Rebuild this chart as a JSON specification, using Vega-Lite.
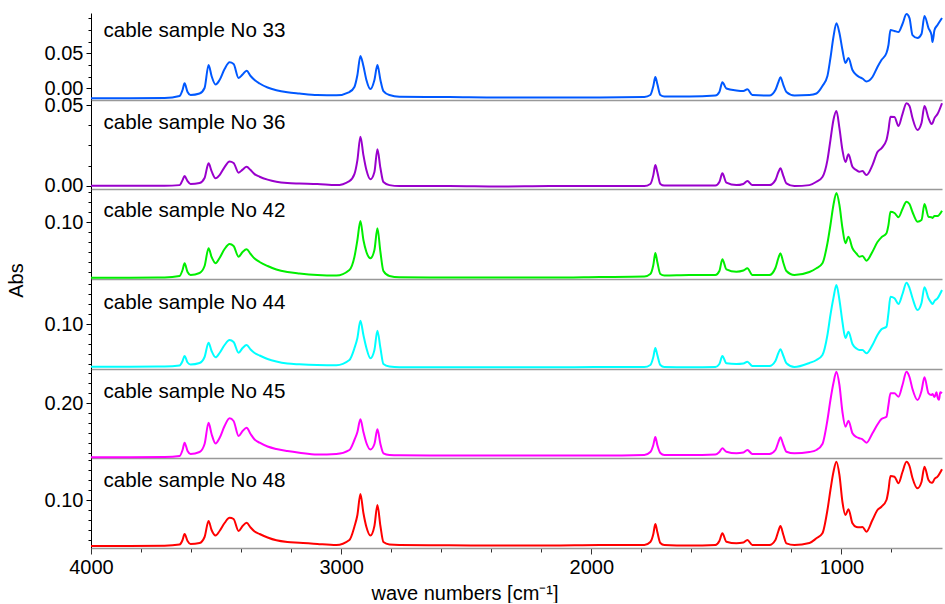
{
"$schema": "https://vega.github.io/schema/vega-lite/v6.json",
"background": "white",
"padding": {"left": 6, "top": 10, "right": 2, "bottom": 0},
"spacing": 0,
"bounds": "flush",
"config": {
  "view": {"stroke": null},
  "axis": {"grid": false, "labelFont": "Liberation Sans", "labelFontSize": 20, "labelColor": "#000", "titleFont": "Liberation Sans", "titleFontSize": 20, "titleFontWeight": "normal", "titleColor": "#000", "labelFlush": false, "domainColor": "#000", "tickColor": "#000"},
  "text": {"font": "Liberation Sans"}
},
"datasets": {
"s33": [{"wn":4000,"a":-0.0143},{"wn":3846,"a":-0.0143},{"wn":3706,"a":-0.0139},{"wn":3646,"a":-0.011},{"wn":3634,"a":-0.0024},{"wn":3626,"a":0.0071},{"wn":3614,"a":-0.0053},{"wn":3602,"a":-0.0096},{"wn":3566,"a":-0.0074},{"wn":3546,"a":0.0004},{"wn":3530,"a":0.0333},{"wn":3518,"a":0.0176},{"wn":3502,"a":0.0054},{"wn":3486,"a":0.0119},{"wn":3466,"a":0.0276},{"wn":3446,"a":0.0371},{"wn":3430,"a":0.0347},{"wn":3410,"a":0.0147},{"wn":3394,"a":0.0197},{"wn":3378,"a":0.0251},{"wn":3362,"a":0.0176},{"wn":3346,"a":0.0119},{"wn":3326,"a":0.0069},{"wn":3294,"a":0.0011},{"wn":3259,"a":-0.0027},{"wn":3215,"a":-0.0056},{"wn":3167,"a":-0.0074},{"wn":3095,"a":-0.0096},{"wn":3019,"a":-0.01},{"wn":2967,"a":-0.0053},{"wn":2947,"a":0.0019},{"wn":2935,"a":0.019},{"wn":2923,"a":0.0461},{"wn":2911,"a":0.0319},{"wn":2899,"a":0.0119},{"wn":2883,"a":-0.001},{"wn":2867,"a":0.0119},{"wn":2855,"a":0.0333},{"wn":2843,"a":0.0119},{"wn":2831,"a":-0.0039},{"wn":2807,"a":-0.0096},{"wn":2767,"a":-0.012},{"wn":2567,"a":-0.0124},{"wn":2367,"a":-0.0131},{"wn":2167,"a":-0.0131},{"wn":1967,"a":-0.0131},{"wn":1788,"a":-0.0124},{"wn":1764,"a":-0.0096},{"wn":1752,"a":0.0033},{"wn":1744,"a":0.0161},{"wn":1736,"a":0.0061},{"wn":1724,"a":-0.0096},{"wn":1708,"a":-0.0117},{"wn":1608,"a":-0.0117},{"wn":1504,"a":-0.0103},{"wn":1488,"a":-0.0053},{"wn":1476,"a":0.0086},{"wn":1460,"a":-0.0003},{"wn":1420,"a":-0.0031},{"wn":1392,"a":-0.0039},{"wn":1376,"a":-0.0014},{"wn":1356,"a":-0.0096},{"wn":1288,"a":-0.0103},{"wn":1264,"a":-0.0024},{"wn":1252,"a":0.009},{"wn":1244,"a":0.0157},{"wn":1232,"a":0.0047},{"wn":1220,"a":-0.0053},{"wn":1188,"a":-0.0103},{"wn":1128,"a":-0.0096},{"wn":1100,"a":-0.0074},{"wn":1076,"a":0.0033},{"wn":1056,"a":0.0176},{"wn":1044,"a":0.0433},{"wn":1032,"a":0.0733},{"wn":1020,"a":0.0929},{"wn":1008,"a":0.079},{"wn":996,"a":0.0547},{"wn":984,"a":0.0361},{"wn":972,"a":0.0433},{"wn":956,"a":0.0261},{"wn":940,"a":0.019},{"wn":928,"a":0.0161},{"wn":916,"a":0.014},{"wn":900,"a":0.0097},{"wn":876,"a":0.0161},{"wn":856,"a":0.0304},{"wn":840,"a":0.0404},{"wn":820,"a":0.0504},{"wn":812,"a":0.0619},{"wn":804,"a":0.0833},{"wn":788,"a":0.0819},{"wn":772,"a":0.0804},{"wn":756,"a":0.0919},{"wn":740,"a":0.1061},{"wn":728,"a":0.1004},{"wn":716,"a":0.0761},{"wn":696,"a":0.0719},{"wn":680,"a":0.0776},{"wn":668,"a":0.1033},{"wn":652,"a":0.0861},{"wn":640,"a":0.0761},{"wn":636,"a":0.0661},{"wn":628,"a":0.0833},{"wn":616,"a":0.0904},{"wn":598,"a":0.1004}],
"s36": [{"wn":4000,"a":0},{"wn":3846,"a":0},{"wn":3706,"a":0},{"wn":3646,"a":0.0004},{"wn":3634,"a":0.0035},{"wn":3626,"a":0.006},{"wn":3614,"a":0.0029},{"wn":3602,"a":0.0011},{"wn":3566,"a":0.0017},{"wn":3546,"a":0.0048},{"wn":3530,"a":0.0139},{"wn":3518,"a":0.0091},{"wn":3502,"a":0.0046},{"wn":3486,"a":0.0066},{"wn":3466,"a":0.0116},{"wn":3446,"a":0.015},{"wn":3430,"a":0.0141},{"wn":3410,"a":0.0081},{"wn":3394,"a":0.01},{"wn":3378,"a":0.0118},{"wn":3362,"a":0.0097},{"wn":3346,"a":0.0072},{"wn":3326,"a":0.0056},{"wn":3294,"a":0.0038},{"wn":3259,"a":0.0025},{"wn":3215,"a":0.0017},{"wn":3167,"a":0.0014},{"wn":3095,"a":0.0011},{"wn":3019,"a":0.0004},{"wn":2967,"a":0.0029},{"wn":2947,"a":0.0072},{"wn":2935,"a":0.0159},{"wn":2923,"a":0.0304},{"wn":2911,"a":0.019},{"wn":2899,"a":0.0097},{"wn":2883,"a":0.004},{"wn":2867,"a":0.0085},{"wn":2855,"a":0.0226},{"wn":2843,"a":0.011},{"wn":2831,"a":0.0023},{"wn":2807,"a":0.0004},{"wn":2767,"a":-0.0002},{"wn":2567,"a":-0.0002},{"wn":2367,"a":-0.0005},{"wn":2167,"a":-0.0002},{"wn":1967,"a":-0.0002},{"wn":1788,"a":-0.0002},{"wn":1764,"a":0.0011},{"wn":1752,"a":0.0066},{"wn":1744,"a":0.0128},{"wn":1736,"a":0.0085},{"wn":1724,"a":0.0011},{"wn":1708,"a":0.0001},{"wn":1608,"a":0.0001},{"wn":1504,"a":0.0001},{"wn":1488,"a":0.0023},{"wn":1476,"a":0.0077},{"wn":1460,"a":0.0019},{"wn":1420,"a":0.0004},{"wn":1392,"a":0.0011},{"wn":1376,"a":0.0029},{"wn":1356,"a":0.0004},{"wn":1288,"a":0.0004},{"wn":1264,"a":0.0035},{"wn":1252,"a":0.0085},{"wn":1244,"a":0.0108},{"wn":1232,"a":0.006},{"wn":1220,"a":0.0015},{"wn":1188,"a":-0.0002},{"wn":1128,"a":0.0004},{"wn":1100,"a":0.0025},{"wn":1076,"a":0.0054},{"wn":1056,"a":0.0159},{"wn":1044,"a":0.0283},{"wn":1032,"a":0.0407},{"wn":1020,"a":0.0463},{"wn":1008,"a":0.0357},{"wn":996,"a":0.0221},{"wn":984,"a":0.0147},{"wn":972,"a":0.0195},{"wn":956,"a":0.0118},{"wn":940,"a":0.0097},{"wn":928,"a":0.0087},{"wn":916,"a":0.0091},{"wn":900,"a":0.0066},{"wn":876,"a":0.0128},{"wn":856,"a":0.0209},{"wn":840,"a":0.0232},{"wn":820,"a":0.0283},{"wn":812,"a":0.0345},{"wn":804,"a":0.0428},{"wn":788,"a":0.0426},{"wn":772,"a":0.037},{"wn":756,"a":0.0444},{"wn":740,"a":0.0511},{"wn":728,"a":0.0494},{"wn":716,"a":0.0419},{"wn":696,"a":0.0345},{"wn":680,"a":0.0388},{"wn":668,"a":0.0494},{"wn":652,"a":0.0419},{"wn":640,"a":0.0382},{"wn":636,"a":0.0388},{"wn":628,"a":0.0419},{"wn":616,"a":0.0444},{"wn":598,"a":0.0511}],
"s42": [{"wn":4000,"a":-0.0108},{"wn":3846,"a":-0.0108},{"wn":3706,"a":-0.0104},{"wn":3646,"a":-0.0074},{"wn":3634,"a":0.0046},{"wn":3626,"a":0.018},{"wn":3614,"a":0.0006},{"wn":3602,"a":-0.0054},{"wn":3566,"a":-0.0014},{"wn":3546,"a":0.0126},{"wn":3530,"a":0.048},{"wn":3518,"a":0.0306},{"wn":3502,"a":0.018},{"wn":3486,"a":0.0286},{"wn":3466,"a":0.0466},{"wn":3446,"a":0.0566},{"wn":3430,"a":0.0526},{"wn":3410,"a":0.0312},{"wn":3394,"a":0.0406},{"wn":3378,"a":0.046},{"wn":3362,"a":0.0366},{"wn":3346,"a":0.0276},{"wn":3326,"a":0.0206},{"wn":3294,"a":0.0126},{"wn":3259,"a":0.0056},{"wn":3215,"a":0.0006},{"wn":3167,"a":-0.0024},{"wn":3095,"a":-0.0054},{"wn":3019,"a":-0.0064},{"wn":2967,"a":0.0046},{"wn":2947,"a":0.0306},{"wn":2935,"a":0.0646},{"wn":2923,"a":0.1026},{"wn":2911,"a":0.0646},{"wn":2899,"a":0.0406},{"wn":2883,"a":0.028},{"wn":2867,"a":0.0446},{"wn":2855,"a":0.088},{"wn":2843,"a":0.0406},{"wn":2831,"a":0.0026},{"wn":2807,"a":-0.0074},{"wn":2767,"a":-0.01},{"wn":2567,"a":-0.0104},{"wn":2367,"a":-0.0104},{"wn":2167,"a":-0.0104},{"wn":1967,"a":-0.0094},{"wn":1788,"a":-0.0084},{"wn":1764,"a":-0.0034},{"wn":1752,"a":0.0146},{"wn":1744,"a":0.0386},{"wn":1736,"a":0.0206},{"wn":1724,"a":-0.0034},{"wn":1708,"a":-0.0064},{"wn":1608,"a":-0.0054},{"wn":1504,"a":-0.0054},{"wn":1488,"a":0.0026},{"wn":1476,"a":0.026},{"wn":1460,"a":0.006},{"wn":1420,"a":0.0012},{"wn":1392,"a":0.0036},{"wn":1376,"a":0.008},{"wn":1356,"a":-0.0054},{"wn":1288,"a":-0.0054},{"wn":1264,"a":0.0086},{"wn":1252,"a":0.0286},{"wn":1244,"a":0.038},{"wn":1232,"a":0.0186},{"wn":1220,"a":0.0026},{"wn":1188,"a":-0.0054},{"wn":1128,"a":0.0006},{"wn":1100,"a":0.008},{"wn":1076,"a":0.018},{"wn":1056,"a":0.058},{"wn":1044,"a":0.0946},{"wn":1032,"a":0.1346},{"wn":1020,"a":0.1586},{"wn":1008,"a":0.1346},{"wn":996,"a":0.0886},{"wn":984,"a":0.058},{"wn":972,"a":0.0712},{"wn":956,"a":0.048},{"wn":940,"a":0.0376},{"wn":928,"a":0.0312},{"wn":916,"a":0.0326},{"wn":900,"a":0.0232},{"wn":876,"a":0.0412},{"wn":856,"a":0.0606},{"wn":840,"a":0.07},{"wn":820,"a":0.078},{"wn":812,"a":0.0946},{"wn":804,"a":0.1212},{"wn":788,"a":0.1186},{"wn":772,"a":0.11},{"wn":756,"a":0.1266},{"wn":740,"a":0.1412},{"wn":728,"a":0.1366},{"wn":716,"a":0.1206},{"wn":696,"a":0.1012},{"wn":680,"a":0.1046},{"wn":668,"a":0.1366},{"wn":652,"a":0.1112},{"wn":640,"a":0.11},{"wn":636,"a":0.1086},{"wn":628,"a":0.1126},{"wn":616,"a":0.1126},{"wn":598,"a":0.1232}],
"s44": [{"wn":4000,"a":0.0573},{"wn":3846,"a":0.0573},{"wn":3706,"a":0.0575},{"wn":3646,"a":0.0585},{"wn":3634,"a":0.063},{"wn":3626,"a":0.068},{"wn":3614,"a":0.0615},{"wn":3602,"a":0.0595},{"wn":3566,"a":0.061},{"wn":3546,"a":0.067},{"wn":3530,"a":0.0813},{"wn":3518,"a":0.073},{"wn":3502,"a":0.0667},{"wn":3486,"a":0.071},{"wn":3466,"a":0.079},{"wn":3446,"a":0.084},{"wn":3430,"a":0.082},{"wn":3410,"a":0.0713},{"wn":3394,"a":0.076},{"wn":3378,"a":0.079},{"wn":3362,"a":0.0745},{"wn":3346,"a":0.071},{"wn":3326,"a":0.0685},{"wn":3294,"a":0.065},{"wn":3259,"a":0.0625},{"wn":3215,"a":0.0605},{"wn":3167,"a":0.0597},{"wn":3095,"a":0.059},{"wn":3019,"a":0.0588},{"wn":2967,"a":0.064},{"wn":2947,"a":0.0757},{"wn":2935,"a":0.086},{"wn":2923,"a":0.1033},{"wn":2911,"a":0.089},{"wn":2899,"a":0.076},{"wn":2883,"a":0.0657},{"wn":2867,"a":0.074},{"wn":2855,"a":0.0933},{"wn":2843,"a":0.076},{"wn":2831,"a":0.06},{"wn":2807,"a":0.0575},{"wn":2767,"a":0.0567},{"wn":2567,"a":0.0567},{"wn":2367,"a":0.0567},{"wn":2167,"a":0.0567},{"wn":1967,"a":0.057},{"wn":1788,"a":0.057},{"wn":1764,"a":0.059},{"wn":1752,"a":0.067},{"wn":1744,"a":0.076},{"wn":1736,"a":0.069},{"wn":1724,"a":0.059},{"wn":1708,"a":0.057},{"wn":1608,"a":0.0567},{"wn":1504,"a":0.057},{"wn":1488,"a":0.06},{"wn":1476,"a":0.068},{"wn":1460,"a":0.0607},{"wn":1420,"a":0.06},{"wn":1392,"a":0.0605},{"wn":1376,"a":0.0623},{"wn":1356,"a":0.058},{"wn":1288,"a":0.058},{"wn":1264,"a":0.063},{"wn":1252,"a":0.071},{"wn":1244,"a":0.0747},{"wn":1232,"a":0.068},{"wn":1220,"a":0.0607},{"wn":1188,"a":0.057},{"wn":1128,"a":0.061},{"wn":1100,"a":0.064},{"wn":1076,"a":0.069},{"wn":1056,"a":0.089},{"wn":1044,"a":0.109},{"wn":1032,"a":0.126},{"wn":1020,"a":0.139},{"wn":1008,"a":0.124},{"wn":996,"a":0.102},{"wn":984,"a":0.086},{"wn":972,"a":0.0923},{"wn":956,"a":0.08},{"wn":940,"a":0.0755},{"wn":928,"a":0.074},{"wn":916,"a":0.074},{"wn":900,"a":0.0707},{"wn":876,"a":0.079},{"wn":856,"a":0.089},{"wn":840,"a":0.0947},{"wn":820,"a":0.0973},{"wn":812,"a":0.111},{"wn":804,"a":0.1273},{"wn":788,"a":0.1257},{"wn":772,"a":0.12},{"wn":756,"a":0.13},{"wn":740,"a":0.1413},{"wn":728,"a":0.136},{"wn":716,"a":0.126},{"wn":696,"a":0.114},{"wn":680,"a":0.121},{"wn":668,"a":0.1367},{"wn":652,"a":0.1257},{"wn":640,"a":0.121},{"wn":636,"a":0.12},{"wn":628,"a":0.123},{"wn":616,"a":0.1257},{"wn":598,"a":0.134}],
"s45": [{"wn":4000,"a":0.146},{"wn":3846,"a":0.146},{"wn":3706,"a":0.1463},{"wn":3646,"a":0.1473},{"wn":3634,"a":0.1533},{"wn":3626,"a":0.1606},{"wn":3614,"a":0.1523},{"wn":3602,"a":0.1493},{"wn":3566,"a":0.1513},{"wn":3546,"a":0.1593},{"wn":3530,"a":0.1806},{"wn":3518,"a":0.1693},{"wn":3502,"a":0.1598},{"wn":3486,"a":0.1653},{"wn":3466,"a":0.1773},{"wn":3446,"a":0.185},{"wn":3430,"a":0.1823},{"wn":3410,"a":0.1673},{"wn":3394,"a":0.1723},{"wn":3378,"a":0.1756},{"wn":3362,"a":0.1693},{"wn":3346,"a":0.1638},{"wn":3326,"a":0.1606},{"wn":3294,"a":0.1568},{"wn":3259,"a":0.1543},{"wn":3215,"a":0.1523},{"wn":3167,"a":0.1506},{"wn":3095,"a":0.1488},{"wn":3019,"a":0.1493},{"wn":2967,"a":0.1533},{"wn":2947,"a":0.1633},{"wn":2935,"a":0.1713},{"wn":2923,"a":0.184},{"wn":2911,"a":0.1713},{"wn":2899,"a":0.1603},{"wn":2883,"a":0.1538},{"wn":2867,"a":0.1593},{"wn":2855,"a":0.174},{"wn":2843,"a":0.1593},{"wn":2831,"a":0.15},{"wn":2807,"a":0.1483},{"wn":2767,"a":0.148},{"wn":2567,"a":0.1478},{"wn":2367,"a":0.1478},{"wn":2167,"a":0.1478},{"wn":1967,"a":0.1478},{"wn":1788,"a":0.1483},{"wn":1764,"a":0.1513},{"wn":1752,"a":0.1583},{"wn":1744,"a":0.1663},{"wn":1736,"a":0.1583},{"wn":1724,"a":0.1503},{"wn":1708,"a":0.1483},{"wn":1608,"a":0.1483},{"wn":1504,"a":0.1488},{"wn":1488,"a":0.1513},{"wn":1476,"a":0.155},{"wn":1460,"a":0.1516},{"wn":1420,"a":0.15},{"wn":1392,"a":0.1508},{"wn":1376,"a":0.1533},{"wn":1356,"a":0.1493},{"wn":1288,"a":0.1493},{"wn":1264,"a":0.1533},{"wn":1252,"a":0.1613},{"wn":1244,"a":0.166},{"wn":1232,"a":0.1583},{"wn":1220,"a":0.1516},{"wn":1188,"a":0.15},{"wn":1128,"a":0.1513},{"wn":1100,"a":0.1533},{"wn":1076,"a":0.1593},{"wn":1056,"a":0.1833},{"wn":1044,"a":0.2033},{"wn":1032,"a":0.2203},{"wn":1020,"a":0.2316},{"wn":1008,"a":0.2183},{"wn":996,"a":0.1913},{"wn":984,"a":0.1766},{"wn":972,"a":0.1826},{"wn":956,"a":0.17},{"wn":940,"a":0.1663},{"wn":928,"a":0.165},{"wn":916,"a":0.164},{"wn":900,"a":0.1606},{"wn":876,"a":0.17},{"wn":856,"a":0.1788},{"wn":840,"a":0.1843},{"wn":820,"a":0.1866},{"wn":812,"a":0.1983},{"wn":804,"a":0.21},{"wn":788,"a":0.21},{"wn":772,"a":0.2066},{"wn":756,"a":0.2183},{"wn":740,"a":0.2316},{"wn":728,"a":0.2263},{"wn":716,"a":0.2143},{"wn":696,"a":0.2033},{"wn":680,"a":0.2123},{"wn":668,"a":0.226},{"wn":652,"a":0.21},{"wn":640,"a":0.2083},{"wn":636,"a":0.2093},{"wn":628,"a":0.2063},{"wn":620,"a":0.211},{"wn":616,"a":0.2063},{"wn":610,"a":0.2035},{"wn":605,"a":0.211},{"wn":598,"a":0.21}],
"s48": [{"wn":4000,"a":0.054},{"wn":3846,"a":0.054},{"wn":3706,"a":0.0543},{"wn":3646,"a":0.0555},{"wn":3634,"a":0.06},{"wn":3626,"a":0.066},{"wn":3614,"a":0.059},{"wn":3602,"a":0.056},{"wn":3566,"a":0.057},{"wn":3546,"a":0.063},{"wn":3530,"a":0.079},{"wn":3518,"a":0.07},{"wn":3502,"a":0.0645},{"wn":3486,"a":0.069},{"wn":3466,"a":0.077},{"wn":3446,"a":0.0823},{"wn":3430,"a":0.081},{"wn":3410,"a":0.069},{"wn":3394,"a":0.074},{"wn":3378,"a":0.0773},{"wn":3362,"a":0.0725},{"wn":3346,"a":0.0685},{"wn":3326,"a":0.066},{"wn":3294,"a":0.0625},{"wn":3259,"a":0.0597},{"wn":3215,"a":0.058},{"wn":3167,"a":0.0573},{"wn":3095,"a":0.056},{"wn":3019,"a":0.055},{"wn":2967,"a":0.06},{"wn":2947,"a":0.0733},{"wn":2935,"a":0.085},{"wn":2923,"a":0.106},{"wn":2911,"a":0.087},{"wn":2899,"a":0.073},{"wn":2883,"a":0.0645},{"wn":2867,"a":0.074},{"wn":2855,"a":0.095},{"wn":2843,"a":0.074},{"wn":2831,"a":0.058},{"wn":2807,"a":0.0555},{"wn":2767,"a":0.055},{"wn":2567,"a":0.0547},{"wn":2367,"a":0.0545},{"wn":2167,"a":0.0545},{"wn":1967,"a":0.055},{"wn":1788,"a":0.055},{"wn":1764,"a":0.058},{"wn":1752,"a":0.066},{"wn":1744,"a":0.076},{"wn":1736,"a":0.068},{"wn":1724,"a":0.057},{"wn":1708,"a":0.055},{"wn":1608,"a":0.0545},{"wn":1504,"a":0.055},{"wn":1488,"a":0.059},{"wn":1476,"a":0.0667},{"wn":1460,"a":0.0583},{"wn":1420,"a":0.0567},{"wn":1392,"a":0.0575},{"wn":1376,"a":0.06},{"wn":1356,"a":0.055},{"wn":1288,"a":0.055},{"wn":1264,"a":0.06},{"wn":1252,"a":0.069},{"wn":1244,"a":0.074},{"wn":1232,"a":0.065},{"wn":1220,"a":0.0567},{"wn":1188,"a":0.055},{"wn":1128,"a":0.057},{"wn":1100,"a":0.0617},{"wn":1076,"a":0.0667},{"wn":1056,"a":0.09},{"wn":1044,"a":0.11},{"wn":1032,"a":0.128},{"wn":1020,"a":0.1383},{"wn":1008,"a":0.125},{"wn":996,"a":0.098},{"wn":984,"a":0.085},{"wn":972,"a":0.0907},{"wn":956,"a":0.0767},{"wn":940,"a":0.073},{"wn":928,"a":0.0727},{"wn":916,"a":0.073},{"wn":900,"a":0.0683},{"wn":876,"a":0.08},{"wn":856,"a":0.09},{"wn":840,"a":0.0933},{"wn":820,"a":0.1},{"wn":812,"a":0.11},{"wn":804,"a":0.124},{"wn":788,"a":0.1233},{"wn":772,"a":0.1167},{"wn":756,"a":0.128},{"wn":740,"a":0.1383},{"wn":728,"a":0.134},{"wn":716,"a":0.122},{"wn":696,"a":0.1117},{"wn":680,"a":0.118},{"wn":668,"a":0.1333},{"wn":652,"a":0.12},{"wn":640,"a":0.1173},{"wn":636,"a":0.1175},{"wn":628,"a":0.121},{"wn":616,"a":0.1233},{"wn":598,"a":0.1307}]
},
"vconcat": [
{
  "width": 851, "height": 87,
  "resolve": {"axis": {"y": "independent"}},
  "layer": [
    {"data": {"name": "s33"},
     "mark": {"type": "line", "color": "#0058FF", "strokeWidth": 2, "interpolate": "monotone"},
     "encoding": {
       "x": {"field": "wn", "type": "quantitative", "scale": {"domain": [4000, 598], "nice": false, "zero": false}, "axis": {"labels": false, "ticks": false, "title": null, "domainColor": "#999999", "domainWidth": 1.5}},
       "y": {"field": "a", "type": "quantitative", "scale": {"domain": [-0.0167, 0.1076], "nice": false, "zero": false}, "axis": {"orient": "left", "values": [0, 0.05], "format": ".2f", "tickSize": 5, "labelPadding": 3, "domain": true, "domainColor": "#000", "domainWidth": 1, "title": null}}
     }},
    {"data": {"name": "s33"},
     "mark": {"type": "line", "strokeOpacity": 0},
     "encoding": {
       "x": {"field": "wn", "type": "quantitative", "axis": {"labels": false, "ticks": false, "title": null, "domainColor": "#999999", "domainWidth": 1.5}},
       "y": {"field": "a", "type": "quantitative", "axis": {"orient": "left", "values": [0.016667, 0.033333, 0.066667, 0.083333, 0.1], "labels": false, "tickSize": 3, "domain": false, "title": null}}
     }},
    {"data": {"values": [{}]},
     "mark": {"type": "text", "text": "cable sample No 33", "align": "left", "baseline": "alphabetic", "fontSize": 20.6, "color": "#000"},
     "encoding": {"x": {"datum": 3950, "type": "quantitative"}, "y": {"datum": 0.0737, "type": "quantitative", "axis": null}}}
  ]
},
{
  "width": 851, "height": 89,
  "resolve": {"axis": {"y": "independent"}},
  "layer": [
    {"data": {"name": "s36"},
     "mark": {"type": "line", "color": "#9900CC", "strokeWidth": 2, "interpolate": "monotone"},
     "encoding": {
       "x": {"field": "wn", "type": "quantitative", "scale": {"domain": [4000, 598], "nice": false, "zero": false}, "axis": {"labels": false, "ticks": false, "title": null, "domainColor": "#999999", "domainWidth": 1.5}},
       "y": {"field": "a", "type": "quantitative", "scale": {"domain": [-0.002, 0.0531], "nice": false, "zero": false}, "axis": {"orient": "left", "values": [0, 0.05], "format": ".2f", "tickSize": 5, "labelPadding": 3, "domain": true, "domainColor": "#000", "domainWidth": 1, "title": null}}
     }},
    {"data": {"name": "s36"},
     "mark": {"type": "line", "strokeOpacity": 0},
     "encoding": {
       "x": {"field": "wn", "type": "quantitative", "axis": {"labels": false, "ticks": false, "title": null, "domainColor": "#999999", "domainWidth": 1.5}},
       "y": {"field": "a", "type": "quantitative", "axis": {"orient": "left", "values": [0.0125, 0.025, 0.0375], "labels": false, "tickSize": 3, "domain": false, "title": null}}
     }},
    {"data": {"values": [{}]},
     "mark": {"type": "text", "text": "cable sample No 36", "align": "left", "baseline": "alphabetic", "fontSize": 20.6, "color": "#000"},
     "encoding": {"x": {"datum": 3950, "type": "quantitative"}, "y": {"datum": 0.0349, "type": "quantitative", "axis": null}}}
  ]
},
{
  "width": 851, "height": 90,
  "resolve": {"axis": {"y": "independent"}},
  "layer": [
    {"data": {"name": "s42"},
     "mark": {"type": "line", "color": "#00EE00", "strokeWidth": 2, "interpolate": "monotone"},
     "encoding": {
       "x": {"field": "wn", "type": "quantitative", "scale": {"domain": [4000, 598], "nice": false, "zero": false}, "axis": {"labels": false, "ticks": false, "title": null, "domainColor": "#999999", "domainWidth": 1.5}},
       "y": {"field": "a", "type": "quantitative", "scale": {"domain": [-0.0134, 0.1666], "nice": false, "zero": false}, "axis": {"orient": "left", "values": [0.1], "format": ".2f", "tickSize": 5, "labelPadding": 3, "domain": true, "domainColor": "#000", "domainWidth": 1, "title": "Abs", "titleX": -75, "titleY": 91, "titleAngle": 270, "titleAlign": "center", "titleBaseline": "middle"}}
     }},
    {"data": {"name": "s42"},
     "mark": {"type": "line", "strokeOpacity": 0},
     "encoding": {
       "x": {"field": "wn", "type": "quantitative", "axis": {"labels": false, "ticks": false, "title": null, "domainColor": "#999999", "domainWidth": 1.5}},
       "y": {"field": "a", "type": "quantitative", "axis": {"orient": "left", "values": [0, 0.02, 0.04, 0.06, 0.08, 0.12, 0.14, 0.16], "labels": false, "tickSize": 3, "domain": false, "title": null}}
     }},
    {"data": {"values": [{}]},
     "mark": {"type": "text", "text": "cable sample No 42", "align": "left", "baseline": "alphabetic", "fontSize": 20.6, "color": "#000"},
     "encoding": {"x": {"datum": 3950, "type": "quantitative"}, "y": {"datum": 0.1112, "type": "quantitative", "axis": null}}}
  ]
},
{
  "width": 851, "height": 90,
  "resolve": {"axis": {"y": "independent"}},
  "layer": [
    {"data": {"name": "s44"},
     "mark": {"type": "line", "color": "#00FFFF", "strokeWidth": 2, "interpolate": "monotone"},
     "encoding": {
       "x": {"field": "wn", "type": "quantitative", "scale": {"domain": [4000, 598], "nice": false, "zero": false}, "axis": {"labels": false, "ticks": false, "title": null, "domainColor": "#999999", "domainWidth": 1.5}},
       "y": {"field": "a", "type": "quantitative", "scale": {"domain": [0.055, 0.145], "nice": false, "zero": false}, "axis": {"orient": "left", "values": [0.1], "format": ".2f", "tickSize": 5, "labelPadding": 3, "domain": true, "domainColor": "#000", "domainWidth": 1, "title": null}}
     }},
    {"data": {"name": "s44"},
     "mark": {"type": "line", "strokeOpacity": 0},
     "encoding": {
       "x": {"field": "wn", "type": "quantitative", "axis": {"labels": false, "ticks": false, "title": null, "domainColor": "#999999", "domainWidth": 1.5}},
       "y": {"field": "a", "type": "quantitative", "axis": {"orient": "left", "values": [0.06, 0.07, 0.08, 0.09, 0.11, 0.12, 0.13, 0.14], "labels": false, "tickSize": 3, "domain": false, "title": null}}
     }},
    {"data": {"values": [{}]},
     "mark": {"type": "text", "text": "cable sample No 44", "align": "left", "baseline": "alphabetic", "fontSize": 20.6, "color": "#000"},
     "encoding": {"x": {"datum": 3950, "type": "quantitative"}, "y": {"datum": 0.1147, "type": "quantitative", "axis": null}}}
  ]
},
{
  "width": 851, "height": 89,
  "resolve": {"axis": {"y": "independent"}},
  "layer": [
    {"data": {"name": "s45"},
     "mark": {"type": "line", "color": "#FF00FF", "strokeWidth": 2, "interpolate": "monotone"},
     "encoding": {
       "x": {"field": "wn", "type": "quantitative", "scale": {"domain": [4000, 598], "nice": false, "zero": false}, "axis": {"labels": false, "ticks": false, "title": null, "domainColor": "#999999", "domainWidth": 1.5}},
       "y": {"field": "a", "type": "quantitative", "scale": {"domain": [0.1453, 0.2343], "nice": false, "zero": false}, "axis": {"orient": "left", "values": [0.2], "format": ".2f", "tickSize": 5, "labelPadding": 3, "domain": true, "domainColor": "#000", "domainWidth": 1, "title": null}}
     }},
    {"data": {"name": "s45"},
     "mark": {"type": "line", "strokeOpacity": 0},
     "encoding": {
       "x": {"field": "wn", "type": "quantitative", "axis": {"labels": false, "ticks": false, "title": null, "domainColor": "#999999", "domainWidth": 1.5}},
       "y": {"field": "a", "type": "quantitative", "axis": {"orient": "left", "values": [0.15, 0.16, 0.17, 0.18, 0.19, 0.21, 0.22, 0.23], "labels": false, "tickSize": 3, "domain": false, "title": null}}
     }},
    {"data": {"values": [{}]},
     "mark": {"type": "text", "text": "cable sample No 45", "align": "left", "baseline": "alphabetic", "fontSize": 20.6, "color": "#000"},
     "encoding": {"x": {"datum": 3950, "type": "quantitative"}, "y": {"datum": 0.205, "type": "quantitative", "axis": null}}}
  ]
},
{
  "width": 851, "height": 90,
  "resolve": {"axis": {"y": "independent"}},
  "layer": [
    {"data": {"name": "s48"},
     "mark": {"type": "line", "color": "#FF0000", "strokeWidth": 2, "interpolate": "monotone"},
     "encoding": {
       "x": {"field": "wn", "type": "quantitative", "scale": {"domain": [4000, 598], "nice": false, "zero": false}, "axis": {"values": [4000, 3800, 3600, 3400, 3200, 3000, 2800, 2600, 2400, 2200, 2000, 1800, 1600, 1400, 1200, 1000, 800], "format": "d", "labelExpr": "datum.value % 1000 === 0 ? datum.label : ''", "tickSize": {"condition": {"test": "datum.value % 1000 === 0", "value": 6}, "value": 4}, "tickColor": "#333333", "labelPadding": 3, "domainColor": "#999999", "domainWidth": 1.5, "title": "wave numbers [cm⁻¹]", "titleX": 373.5, "titleAlign": "center", "titlePadding": 6}},
       "y": {"field": "a", "type": "quantitative", "scale": {"domain": [0.052, 0.142], "nice": false, "zero": false}, "axis": {"orient": "left", "values": [0.1], "format": ".2f", "tickSize": 5, "labelPadding": 3, "domain": true, "domainColor": "#000", "domainWidth": 1, "title": null}}
     }},
    {"data": {"name": "s48"},
     "mark": {"type": "line", "strokeOpacity": 0},
     "encoding": {
       "x": {"field": "wn", "type": "quantitative", "axis": {"values": [4000, 3800, 3600, 3400, 3200, 3000, 2800, 2600, 2400, 2200, 2000, 1800, 1600, 1400, 1200, 1000, 800], "format": "d", "labelExpr": "datum.value % 1000 === 0 ? datum.label : ''", "tickSize": {"condition": {"test": "datum.value % 1000 === 0", "value": 6}, "value": 4}, "tickColor": "#333333", "labelPadding": 3, "domainColor": "#999999", "domainWidth": 1.5, "title": "wave numbers [cm⁻¹]", "titleX": 373.5, "titleAlign": "center", "titlePadding": 6}},
       "y": {"field": "a", "type": "quantitative", "axis": {"orient": "left", "values": [0.06, 0.07, 0.08, 0.09, 0.11, 0.12, 0.13, 0.14], "labels": false, "tickSize": 3, "domain": false, "title": null}}
     }},
    {"data": {"values": [{}]},
     "mark": {"type": "text", "text": "cable sample No 48", "align": "left", "baseline": "alphabetic", "fontSize": 20.6, "color": "#000"},
     "encoding": {"x": {"datum": 3950, "type": "quantitative"}, "y": {"datum": 0.1127, "type": "quantitative", "axis": null}}}
  ]
}
]
}
